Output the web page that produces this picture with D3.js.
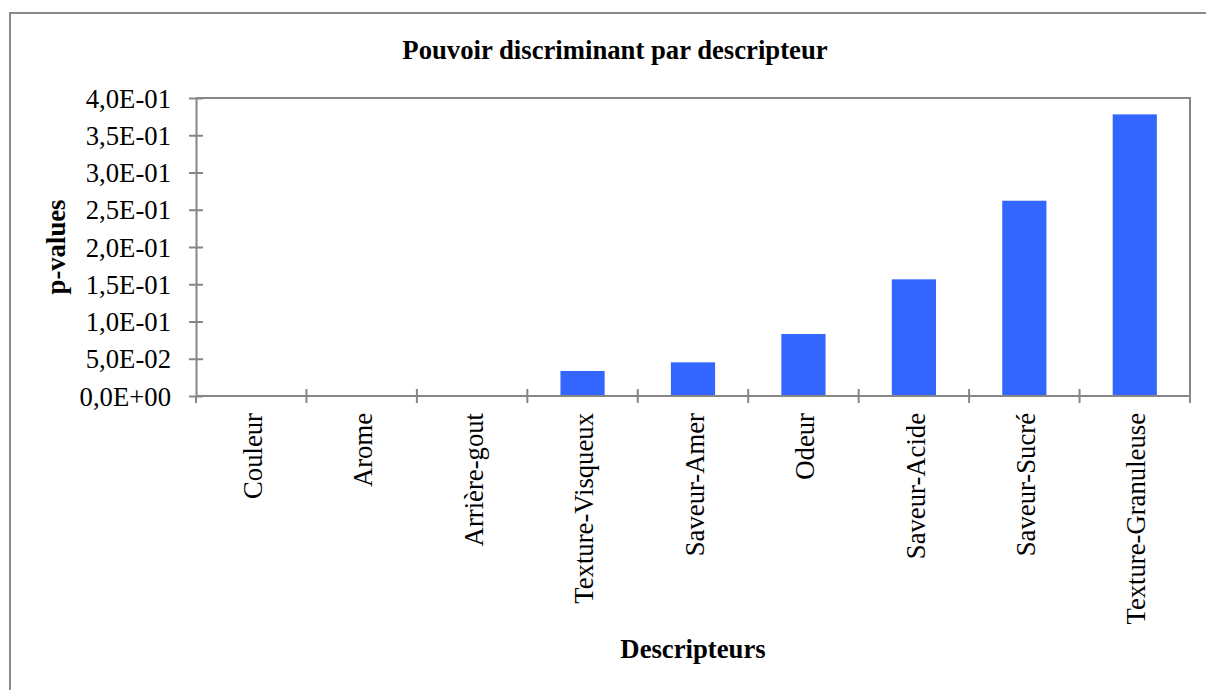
<!DOCTYPE html>
<html>
<head>
<meta charset="utf-8">
<script src="https://cdn.jsdelivr.net/npm/d3@7"></script>
<style>
  html, body { margin: 0; padding: 0; background: #fff; }
  svg { display: block; font-family: "Liberation Serif", "Times New Roman", serif; }
</style>
</head>
<body>
<svg id="chart" width="1206" height="690"></svg>
<script>
// Descriptors, ordered by increasing p-value
const categories = ["Couleur", "Arome", "Arrière-gout", "Texture-Visqueux", "Saveur-Amer",
                    "Odeur", "Saveur-Acide", "Saveur-Sucré", "Texture-Granuleuse"];
const pValues = [0, 0, 0, 0.0336, 0.0452, 0.0832, 0.1566, 0.2621, 0.378];
const yTicks = [0, 0.05, 0.10, 0.15, 0.20, 0.25, 0.30, 0.35, 0.40];

const titleText = "Pouvoir discriminant par descripteur";
const xTitle = "Descripteurs";
const yTitle = "p-values";

const svg = d3.select("#chart");
const fontSize = 26.7;
const axisColor = "#868686";
const barColor = "#3366FF";

const plot = { left: 196, right: 1190, top: 98, bottom: 396 };

const x = d3.scaleBand()
  .domain(categories)
  .range([plot.left, plot.right])
  .paddingInner(0.6)
  .paddingOuter(0.3);

const xEdges = d3.scalePoint()
  .domain(d3.range(categories.length + 1))
  .range([plot.left, plot.right]);

const y = d3.scaleLinear().domain([0, 0.4]).range([plot.bottom, plot.top]);

// Scientific notation with a decimal comma, e.g. 2,5E-01
function sci(v) {
  if (v === 0) return "0,0E+00";
  let e = Math.floor(Math.log10(v) + 1e-9);
  let m = v / Math.pow(10, e);
  if (Math.round(m * 10) / 10 >= 10) { m /= 10; e += 1; }
  const sign = e < 0 ? "-" : "+";
  return m.toFixed(1).replace(".", ",") + "E" + sign + String(Math.abs(e)).padStart(2, "0");
}

// Outer chart frame
svg.append("rect")
  .attr("x", 10).attr("y", 13)
  .attr("width", 1400).attr("height", 900)
  .attr("fill", "none")
  .attr("stroke", "#8a8a8a")
  .attr("stroke-width", 2);

// Title
svg.append("text")
  .attr("x", 615).attr("y", 59)
  .attr("text-anchor", "middle")
  .attr("font-weight", "bold")
  .attr("font-size", fontSize)
  .text(titleText);

// Bars
svg.append("g").selectAll("rect")
  .data(categories.map((c, i) => ({ c, v: pValues[i] })))
  .join("rect")
  .attr("x", d => x(d.c))
  .attr("y", d => y(d.v))
  .attr("width", x.bandwidth())
  .attr("height", d => y(0) - y(d.v))
  .attr("fill", barColor);

// Plot border on top and right
svg.append("path")
  .attr("d", `M${plot.left},${plot.top}H${plot.right}V${plot.bottom}`)
  .attr("fill", "none")
  .attr("stroke", axisColor)
  .attr("stroke-width", 2);

// Y axis
const yAxis = d3.axisLeft(y)
  .tickValues(yTicks)
  .tickFormat(sci)
  .tickSizeInner(7)
  .tickSizeOuter(0)
  .tickPadding(18);

const gy = svg.append("g")
  .attr("transform", `translate(${plot.left},0)`)
  .call(yAxis);
gy.select(".domain").attr("stroke", axisColor).attr("stroke-width", 2);
gy.selectAll(".tick line")
  .attr("x1", 7).attr("x2", -7)
  .attr("stroke", axisColor).attr("stroke-width", 2);
gy.selectAll(".tick text")
  .attr("font-family", "Liberation Serif, Times New Roman, serif")
  .attr("font-size", fontSize)
  .attr("fill", "#000")
  .attr("x", -25)
  .attr("dy", "0.34em");

// X axis line with crossing ticks at category boundaries
const gx = svg.append("g");
gx.append("line")
  .attr("x1", plot.left).attr("x2", plot.right)
  .attr("y1", plot.bottom).attr("y2", plot.bottom)
  .attr("stroke", axisColor).attr("stroke-width", 2);
gx.selectAll("line.tick")
  .data(xEdges.domain())
  .join("line")
  .attr("class", "tick")
  .attr("x1", d => xEdges(d)).attr("x2", d => xEdges(d))
  .attr("y1", d => (d === 0 || d === categories.length) ? plot.bottom : plot.bottom - 7)
  .attr("y2", plot.bottom + 7)
  .attr("stroke", axisColor).attr("stroke-width", 2);

// Rotated category labels
gx.selectAll("text")
  .data(categories)
  .join("text")
  .attr("transform", d => `translate(${x(d) + x.bandwidth() / 2},413) rotate(-90)`)
  .attr("text-anchor", "end")
  .attr("dy", "0.4em")
  .attr("font-size", fontSize)
  .text(d => d);

// Axis titles
svg.append("text")
  .attr("x", 693).attr("y", 658)
  .attr("text-anchor", "middle")
  .attr("font-weight", "bold")
  .attr("font-size", fontSize)
  .text(xTitle);

svg.append("text")
  .attr("transform", `translate(65,${(plot.top + plot.bottom) / 2}) rotate(-90)`)
  .attr("text-anchor", "middle")
  .attr("font-weight", "bold")
  .attr("font-size", fontSize)
  .text(yTitle);
</script>
</body>
</html>
